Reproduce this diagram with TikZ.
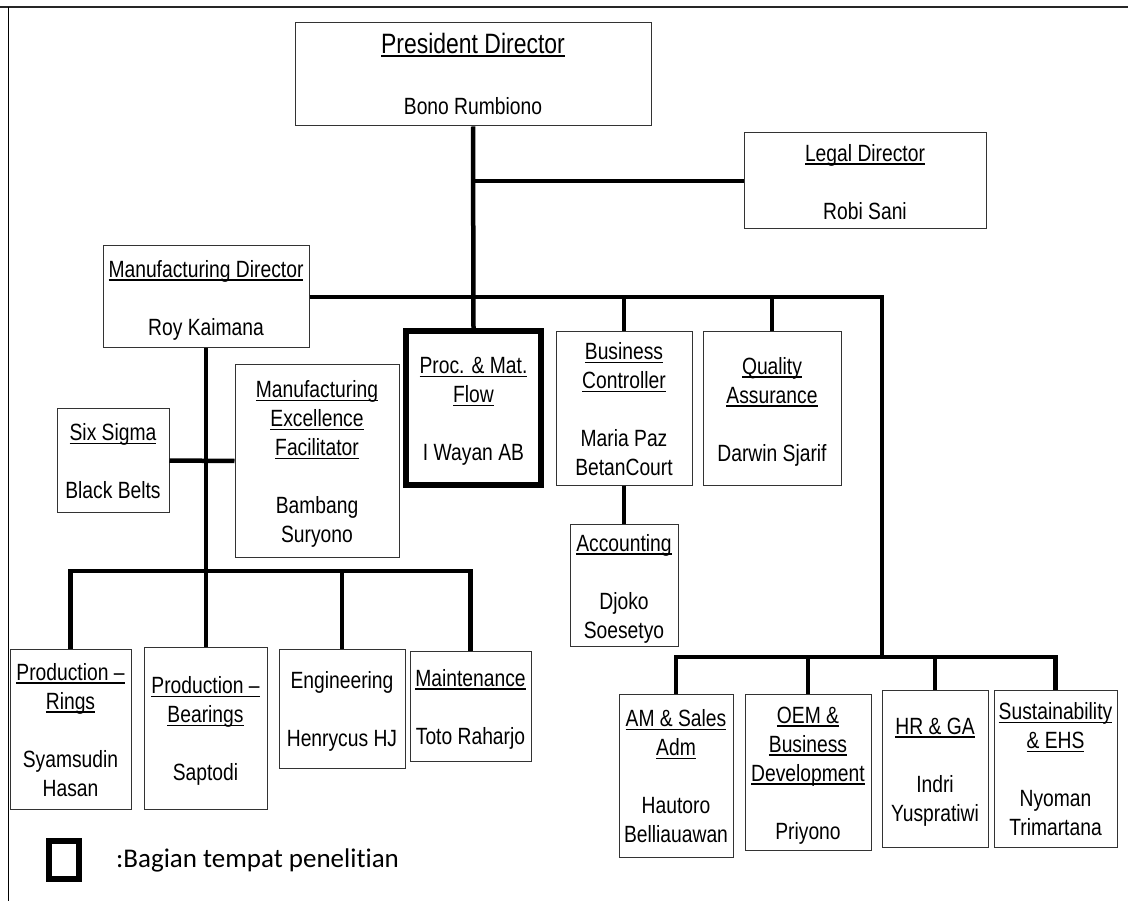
\documentclass[tikz,border=0pt]{standalone}
\usepackage{fontspec}
\setmainfont{Liberation Sans}[FakeStretch=0.82]
\newfontfamily\legendfont{Carlito}[Ligatures=NoCommon]
\newcommand\boxfont{\fontsize{23.5}{29}\selectfont}
% underlined heading: rule just under the baseline, ignoring descenders
\newcommand\ulin[1]{\leavevmode\setbox0\hbox{#1}\rlap{\rule[-3.5pt]{\wd0}{1.5pt}}\box0}
% fixed top and bottom extent so the lines sit centred in each box
\newcommand\tops{\rule{0pt}{27pt}}
\newcommand\bots{\rule[-8.5pt]{0pt}{8.5pt}}
\begin{document}
\begin{tikzpicture}[x=1pt,y=-1pt,
  box/.style={draw=black!80, line width=1pt, inner sep=0pt, align=center, font=\boxfont},
  conn/.style={line width=4.5pt, line join=miter}]
\useasboundingbox (0,0) rectangle (1128,901);

% frame
\draw[line width=1.6pt, black!85] (0,7) -- (1128,7);
\draw[line width=1pt] (8,7) -- (8,901);

% boxes
\node[box, minimum width=356, minimum height=103] (pres) at (473,74.5)
  {\tops{\fontsize{28}{29}\selectfont\ulin{President Director}}\\[32pt] Bono Rumbiono\bots};
\node[box, minimum width=242, minimum height=96] (legal) at (865,181)
  {\tops\ulin{Legal Director}\\[29pt] Robi Sani\bots};
\node[box, minimum width=206, minimum height=102] (mfg) at (206,297)
  {\tops\ulin{Manufacturing Director}\\[29pt] Roy Kaimana\bots};
\node[box, minimum width=112, minimum height=103] (sixs) at (113,460.5)
  {\tops\ulin{Six Sigma}\\[29pt] Black Belts\bots};
\node[box, minimum width=164, minimum height=192] (mef) at (317,461)
  {\tops\ulin{Manufacturing}\\ \ulin{Excellence}\\ \ulin{Facilitator}\\[29pt] Bambang\\ Suryono\bots};
\node[box, draw=black, line width=5.7pt, minimum width=135, minimum height=154] (proc) at (473.5,408)
  {\tops\ulin{Proc. \& Mat.}\\ \ulin{Flow}\\[29pt] I Wayan AB\bots};
\node[box, minimum width=136, minimum height=153] (bc) at (624,408.5)
  {\tops\ulin{Business}\\ \ulin{Controller}\\[29pt] Maria Paz\\ BetanCourt\bots};
\node[box, minimum width=138, minimum height=153] (qa) at (772,408.5)
  {\tops\ulin{Quality}\\ \ulin{Assurance}\\[29pt] Darwin Sjarif\bots};
\node[box, minimum width=108, minimum height=119] (acct) at (624,585.5)
  {\tops\ulin{Accounting}\\[29pt] Djoko\\ Soesetyo\bots};

\node[box, minimum width=121, minimum height=160] (prodR) at (70.5,729)
  {\tops\ulin{Production \textendash}\\ \ulin{Rings}\\[29pt] Syamsudin\\ Hasan\bots};
\node[box, minimum width=123, minimum height=162] (prodB) at (205.5,728)
  {\tops\ulin{Production \textendash}\\ \ulin{Bearings}\\[29pt] Saptodi\bots};
\node[box, minimum width=126, minimum height=119] (eng) at (342,708.5)
  {\tops Engineering\\[29pt] Henrycus HJ\bots};
\node[box, minimum width=121, minimum height=110] (maint) at (470.5,706)
  {\tops\ulin{Maintenance}\\[29pt] Toto Raharjo\bots};

\node[box, minimum width=114, minimum height=163] (am) at (676,775.5)
  {\tops\ulin{AM \& Sales}\\ \ulin{Adm}\\[29pt] Hautoro\\ Belliauawan\bots};
\node[box, minimum width=126, minimum height=156] (oem) at (808,772)
  {\tops\ulin{OEM \&}\\ \ulin{Business}\\ \ulin{Development}\\[29pt] Priyono\bots};
\node[box, minimum width=106, minimum height=157] (hr) at (935,768.5)
  {\tops\ulin{HR \& GA}\\[29pt] Indri\\ Yuspratiwi\bots};
\node[box, minimum width=123, minimum height=157] (sust) at (1055.5,768.5)
  {\tops\ulin{Sustainability}\\ \ulin{\& EHS}\\[29pt] Nyoman\\ Trimartana\bots};

% bus junctions
\coordinate (rbus) at (882,657);
\coordinate (lbus) at (206,571);

% connectors
\draw[conn] (pres.south) -- (proc.north);
\draw[conn] (pres.south |- legal.west) -- (legal.west);
\draw[conn] (mfg.east) -| (rbus);
\draw[conn] (bc.north |- mfg.east) -- (bc.north);
\draw[conn] (qa.north |- mfg.east) -- (qa.north);
\draw[conn] (bc.south) -- (acct.north);
\draw[conn] (am.north) |- (rbus) -| (sust.north);
\draw[conn] (oem.north |- rbus) -- (oem.north);
\draw[conn] (hr.north |- rbus) -- (hr.north);
\draw[conn] (mfg.south) -- (mfg.south |- prodB.north);
\draw[conn] (sixs.east) -- (mef.west);
\draw[conn] (prodR.north) |- (lbus) -| (maint.north);
\draw[conn] (eng.north |- lbus) -- (eng.north);

% legend
\node[draw, line width=6pt, minimum width=30, minimum height=38, inner sep=0pt] (legsq) at (64,860) {};
\node[anchor=base west, inner sep=0pt, font=\legendfont\fontsize{27}{32}\selectfont] (legtxt) at (116,867)
  {:Bagian tempat penelitian};
\end{tikzpicture}
\end{document}
